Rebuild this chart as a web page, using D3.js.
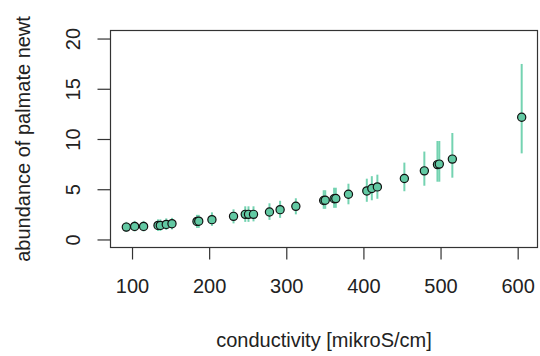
<!DOCTYPE html>
<html>
<head>
<meta charset="utf-8">
<script src="https://cdn.jsdelivr.net/npm/d3@7"></script>
<style>
    body { margin: 0; background: #fff; }
    text { font-family: 'Liberation Sans', Arial, sans-serif; fill: #222; }
</style>
</head>
<body>
<div id="chart"></div>
<script>
// conductivity (x), fitted abundance (y), and CI bounds
const conductivity = [92.6, 103.4, 115, 133.7, 136.7, 144.4, 151.8, 184.2, 186.5, 203.6,
    231.6, 246.8, 251, 257.5, 278.2, 292, 312.4, 348.5, 350.5, 362, 364.2, 380.6,
    404.4, 410.9, 418.1, 453.1, 479, 496, 498.4, 515.3, 605.2];
const abundance = [1.23, 1.3, 1.3, 1.4, 1.4, 1.5, 1.57, 1.8, 1.82, 1.97,
    2.3, 2.5, 2.5, 2.5, 2.73, 2.97, 3.3, 3.88, 3.9, 4.05, 4.07, 4.5,
    4.83, 5.07, 5.23, 6.07, 6.83, 7.45, 7.5, 8.0, 12.17];
const lower = [0.75, 0.8, 0.8, 0.85, 0.85, 0.95, 1.0, 1.15, 1.15, 1.35,
    1.6, 1.75, 1.75, 1.8, 1.95, 2.15, 2.5, 3.05, 3.05, 3.15, 3.15, 3.5,
    3.75, 3.9, 4.05, 4.8, 5.35, 5.75, 5.75, 6.15, 8.57];
const upper = [1.75, 1.85, 1.85, 2.0, 2.0, 2.1, 2.15, 2.45, 2.45, 2.7,
    3.0, 3.3, 3.3, 3.3, 3.6, 3.85, 4.1, 4.9, 4.9, 5.15, 5.15, 5.55,
    6.05, 6.3, 6.45, 7.65, 8.75, 9.8, 9.8, 10.6, 17.47];

const xTicks = [100, 200, 300, 400, 500, 600];
const yTicks = [0, 5, 10, 15, 20];

const data = conductivity.map((c, i) => ({
    x: c, y: abundance[i], lo: lower[i], hi: upper[i]
}));

const width = 540, height = 356;
const plot = {left: 110.5, right: 537.5, top: 30.5, bottom: 247.5};

// R-style 4% axis extension
const xPad = (d3.max(conductivity) - d3.min(conductivity)) * 0.04;
const x = d3.scaleLinear()
    .domain([d3.min(conductivity) - xPad, d3.max(conductivity) + xPad])
    .range([plot.left, plot.right]);
const y = d3.scaleLinear()
    .domain([0 - 0.8, 20 + 0.8])
    .range([plot.bottom, plot.top]);

const svg = d3.select('#chart')
    .append('svg')
    .attr('width', width)
    .attr('height', height);

svg.append('rect')
    .attr('width', width)
    .attr('height', height)
    .attr('fill', '#fff');

// error bars
svg.selectAll('.bar')
    .data(data)
    .enter().append('line')
    .attr('class', 'bar')
    .attr('x1', d => x(d.x))
    .attr('x2', d => x(d.x))
    .attr('y1', d => y(d.lo))
    .attr('y2', d => y(d.hi))
    .style('stroke', '#74d3b1')
    .style('stroke-width', 2);

// points
svg.selectAll('.pt')
    .data(data)
    .enter().append('circle')
    .attr('class', 'pt')
    .attr('cx', d => x(d.x))
    .attr('cy', d => y(d.y))
    .attr('r', 4.1)
    .style('fill', '#62c9a3')
    .style('stroke', '#111')
    .style('stroke-width', 1.2);

// box
svg.append('rect')
    .attr('x', plot.left)
    .attr('y', plot.top)
    .attr('width', plot.right - plot.left)
    .attr('height', plot.bottom - plot.top)
    .style('fill', 'none')
    .style('stroke', '#333')
    .style('stroke-width', 1.2);

// x axis
const xAxis = svg.append('g')
    .attr('transform', `translate(0,${plot.bottom})`)
    .call(d3.axisBottom(x).tickValues(xTicks).tickSize(12).tickPadding(19.5));
xAxis.select('.domain').remove();
xAxis.selectAll('line').style('stroke', '#333').style('stroke-width', 1.2);
xAxis.selectAll('text')
    .style('font-size', '20px')
    .style('font-family', "'Liberation Sans', Arial, sans-serif")
    .attr('fill', '#222');

// y axis, labels rotated like R's default
const yAxis = svg.append('g')
    .attr('transform', `translate(${plot.left},0)`)
    .call(d3.axisLeft(y).tickValues(yTicks).tickSize(13).tickFormat(d3.format('d')));
yAxis.select('.domain').remove();
yAxis.selectAll('line').style('stroke', '#333').style('stroke-width', 1.2);
yAxis.selectAll('text')
    .attr('x', null)
    .attr('dy', null)
    .attr('transform', 'translate(-31,0) rotate(-90)')
    .style('text-anchor', 'middle')
    .style('font-size', '20px')
    .style('font-family', "'Liberation Sans', Arial, sans-serif")
    .attr('fill', '#222');

// axis titles
svg.append('text')
    .attr('x', (plot.left + plot.right) / 2)
    .attr('y', 347)
    .style('text-anchor', 'middle')
    .style('font-size', '20px')
    .text('conductivity [mikroS/cm]');

svg.append('text')
    .attr('transform', `translate(30,${(plot.top + plot.bottom) / 2}) rotate(-90)`)
    .style('text-anchor', 'middle')
    .style('font-size', '20px')
    .text('abundance of palmate newt');
</script>
</body>
</html>
